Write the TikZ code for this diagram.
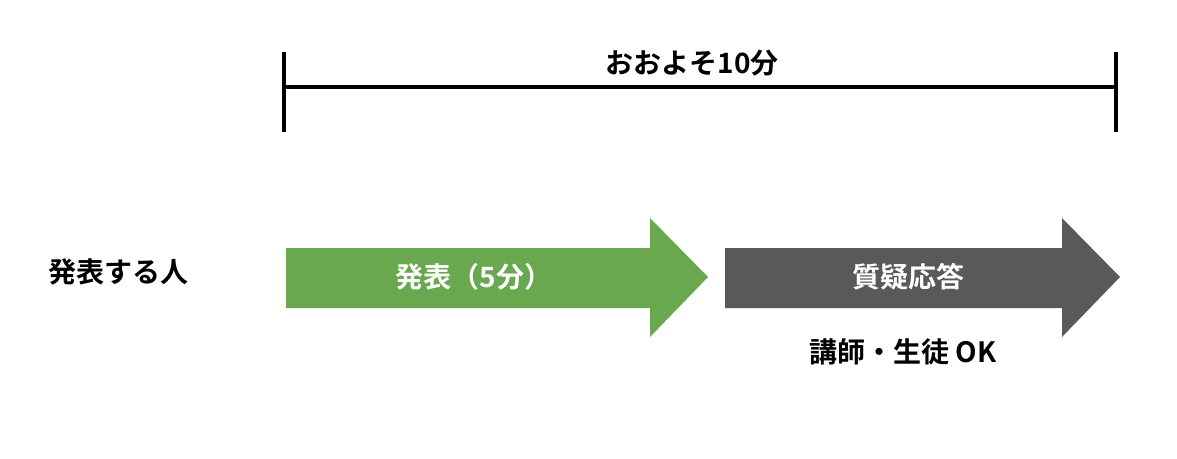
\documentclass[tikz,border=0pt]{standalone}
\usepackage{fontspec}
\setmainfont{Noto Sans CJK JP}[BoldFont={* Bold}]
\definecolor{grn}{RGB}{106,168,79}
\definecolor{gry}{RGB}{89,89,89}
\begin{document}
\begin{tikzpicture}[x=0.75pt,y=-0.75pt,
  lbl/.style={font=\fontsize{21}{24}\selectfont\bfseries},
  bar/.style={line width=3pt}]
\useasboundingbox (0,0) rectangle (1177,458);
\coordinate (L) at (284,87); \coordinate (R) at (1116,87);
\draw[bar] (L) -- (R);
\draw[bar] (284,52) -- (284,132);
\draw[bar] (1116,52) -- (1116,132);
\node[lbl] (t) at (692,63) {おおよそ10分};
\node[lbl] (p) at (118,272) {発表する人};
\fill[grn] (286,248) -- (650,248) -- (650,218) -- (708,277) -- (650,337) -- (650,308) -- (286,308) -- cycle;
\fill[gry] (725,248) -- (1062,248) -- (1062,218) -- (1120,277) -- (1062,337) -- (1062,308) -- (725,308) -- cycle;
\node[lbl,white] (a) at (474,277) {発表（5分）};
\node[lbl,white] (b) at (908,277) {質疑応答};
\node[lbl] (c) at (903,352) {講師・生徒 OK};
\end{tikzpicture}
\end{document}
